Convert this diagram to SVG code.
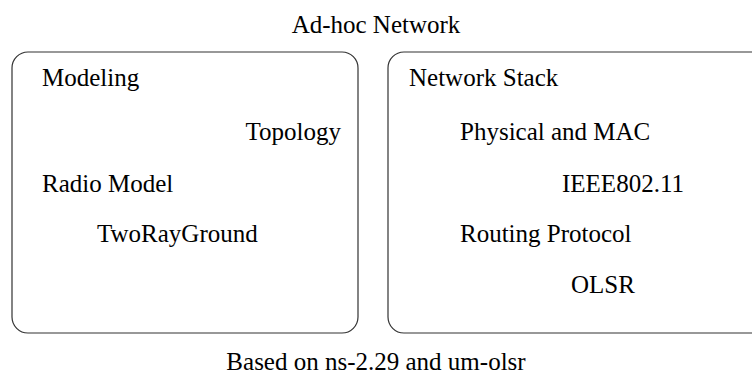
<svg xmlns="http://www.w3.org/2000/svg" width="752" height="379" viewBox="0 0 752 379">
  <style>
    .box { fill: #ffffff; stroke: #333333; stroke-width: 1.2; }
    text { font-family: 'Liberation Serif', 'Times New Roman', Times, 'Nimbus Roman', 'Noto Serif', 'FreeSerif', 'Noto Serif CJK SC', 'DejaVu Serif', serif; font-size: 25px; fill: #000000; }
  </style>
  <rect width="752" height="379" fill="#ffffff"/>
  <text x="376" y="33" text-anchor="middle">Ad-hoc Network</text>
  <g id="modeling">
    <rect class="box" x="12" y="52" width="346" height="281" rx="16" ry="16"/>
    <text x="42" y="86">Modeling</text>
    <text x="341" y="140" text-anchor="end">Topology</text>
    <text x="42" y="192">Radio Model</text>
    <text x="97" y="242">TwoRayGround</text>
  </g>
  <g id="network-stack">
    <rect class="box" x="388" y="52" width="390" height="281" rx="16" ry="16"/>
    <text x="409" y="86">Network Stack</text>
    <text x="460" y="140">Physical and MAC</text>
    <text x="562" y="192">IEEE802.11</text>
    <text x="460" y="242">Routing Protocol</text>
    <text x="571" y="293">OLSR</text>
  </g>
  <g id="connectors"/>
  <text x="376" y="370" text-anchor="middle">Based on ns-2.29 and um-olsr</text>
</svg>
